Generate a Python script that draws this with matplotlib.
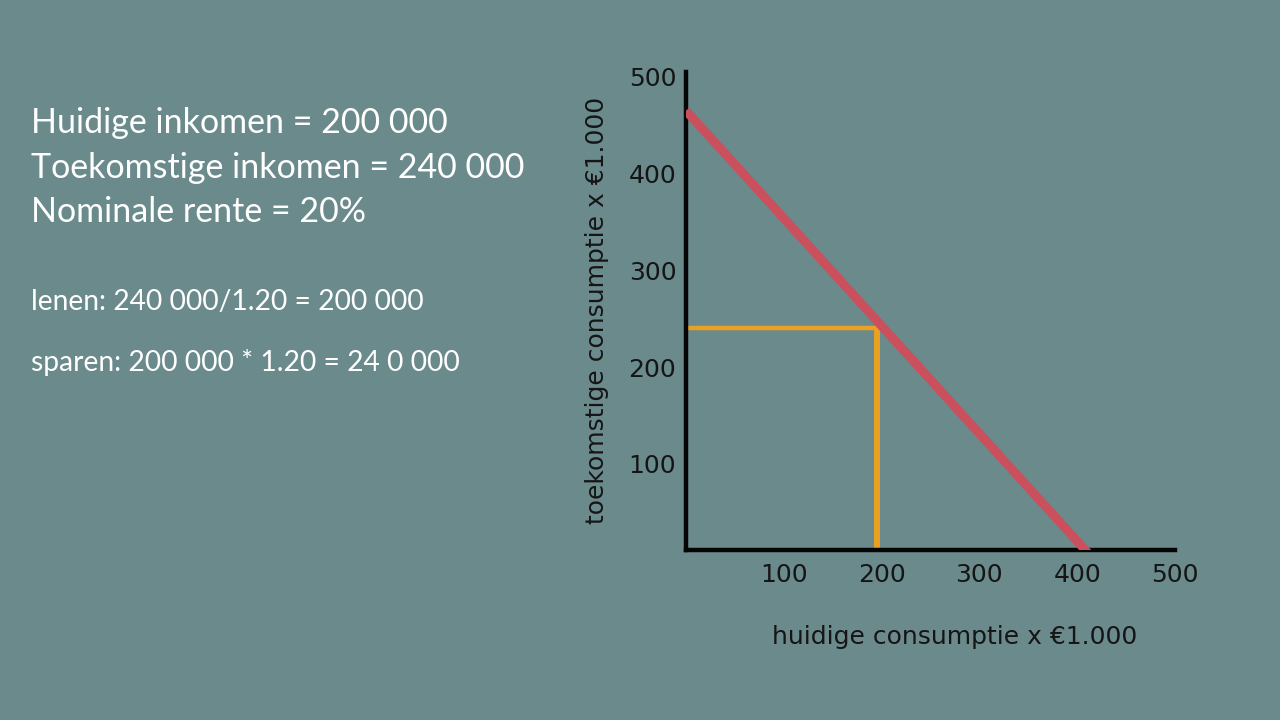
import matplotlib
matplotlib.use("Agg")
import matplotlib.pyplot as plt

# ---- data ----
budget_x = [0, 418]          # huidige consumptie (x €1.000)
budget_y = [465, 0]          # toekomstige consumptie (x €1.000)
income_now = 195
income_future = 240
xticks = [100, 200, 300, 400, 500]
yticks = [100, 200, 300, 400, 500]

text_main = ["Huidige inkomen = 200 000",
             "Toekomstige inkomen = 240 000",
             "Nominale rente = 20%"]
text_calc = ["lenen: 240 000/1.20 = 200 000",
             "sparen: 200 000 * 1.20 = 24 0 000"]

BG = "#6b8a8c"
RED = "#c9505c"
ORANGE = "#eaa122"
YMIN, YMAX = 11, 505

fig = plt.figure(figsize=(12.8, 7.2), dpi=100, facecolor=BG)

ax = fig.add_axes([686/1280, (720-550)/720, (1175-686)/1280, (550-72)/720])
ax.set_facecolor(BG)
ax.set_xlim(0, 500)
ax.set_ylim(YMIN, YMAX)

ax.plot(budget_x, budget_y, color=RED, lw=6.5, solid_capstyle="butt", zorder=3)
ax.hlines(income_future, 0, income_now, color=ORANGE, lw=3.2, zorder=2)
ax.vlines(income_now, YMIN, income_future, color=ORANGE, lw=4.3, zorder=2)

for s in ["top", "right"]:
    ax.spines[s].set_visible(False)
for s in ["left", "bottom"]:
    ax.spines[s].set_linewidth(3.2)
    ax.spines[s].set_color("#050505")

ax.set_xticks(xticks)
ax.set_yticks(yticks)
ax.tick_params(length=0, labelsize=18, labelcolor="#151515")
ax.tick_params(axis="y", pad=7)
ax.tick_params(axis="x", pad=9)

fig.text(597/1280, 1 - 310/720, "toekomstige consumptie x €1.000", rotation=90,
         ha="center", va="center", fontsize=18, color="#151515")
fig.text(955/1280, 1 - 637/720, "huidige consumptie x €1.000",
         ha="center", va="center", fontsize=18, color="#151515")

for i, t in enumerate(text_main):
    fig.text(31/1280, 1 - (123 + 44.5*i)/720, t, ha="left", va="center",
             fontsize=24.5, color="white", family="Lato")
for i, t in enumerate(text_calc):
    fig.text(31/1280, 1 - (302 + 60*i)/720, t, ha="left", va="center",
             fontsize=20.3, color="white", family="Lato")

fig.savefig("out.png", dpi=100, facecolor=BG)
